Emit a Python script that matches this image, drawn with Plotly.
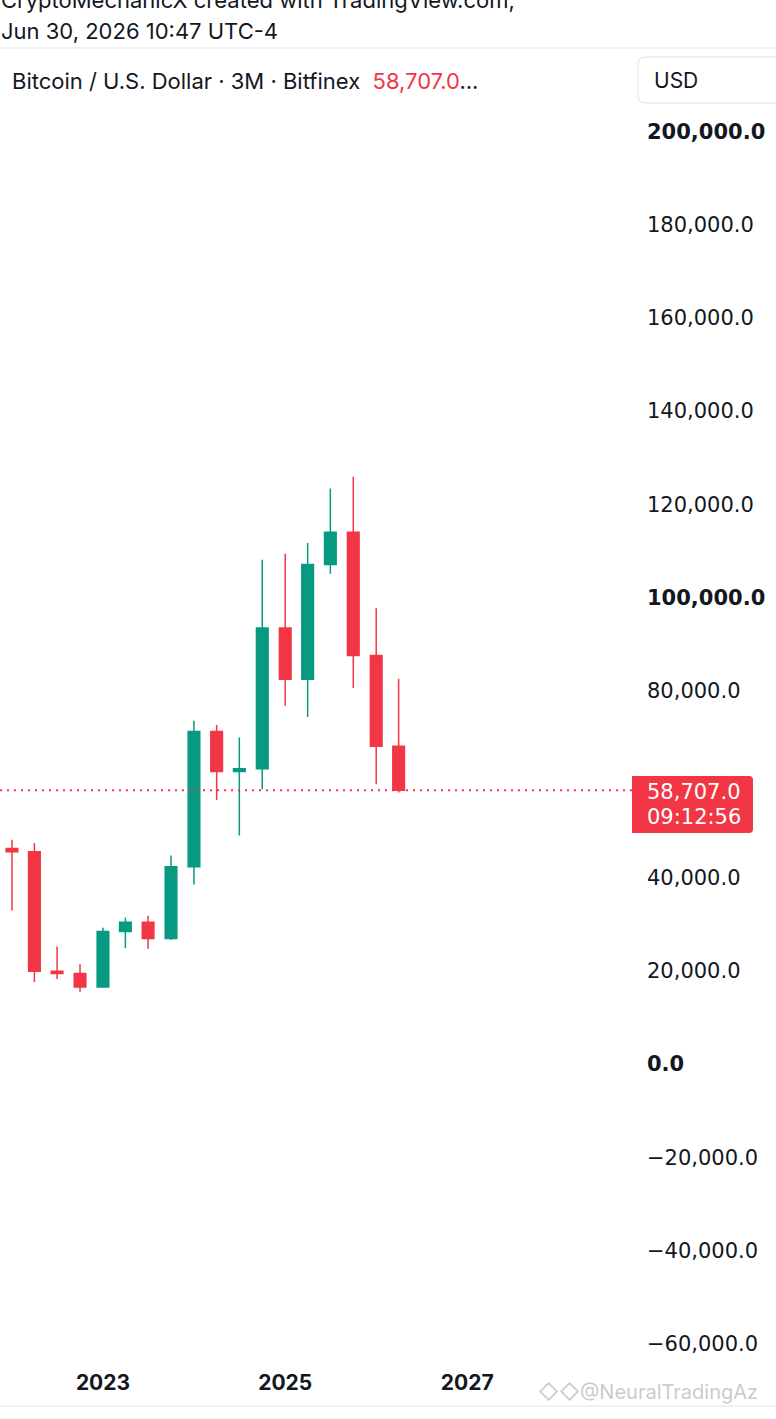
import plotly.graph_objects as go

# Quarterly (3M) BTC/USD candles, Bitfinex
quarters = [
    "2022-01-01", "2022-04-01", "2022-07-01", "2022-10-01",
    "2023-01-01", "2023-04-01", "2023-07-01", "2023-10-01",
    "2024-01-01", "2024-04-01", "2024-07-01", "2024-10-01",
    "2025-01-01", "2025-04-01", "2025-07-01", "2025-10-01",
    "2026-01-01", "2026-04-01",
]
opens = [46200, 45500, 19900, 19400, 16500, 28400, 30400, 26900, 42300,
         71300, 62700, 63300, 93500, 82500, 107100, 114000, 87600, 68100]
highs = [48100, 47400, 25200, 21400, 29200, 31400, 31800, 44700, 73600,
         72700, 70000, 108100, 109400, 111700, 123400, 125900, 97700, 82600]
lows = [32900, 17600, 18200, 15500, 16500, 24800, 24700, 26600, 38500,
        56600, 49000, 58900, 76800, 74400, 105100, 80600, 60000, 58200]
closes = [45500, 19900, 19400, 16500, 28400, 30400, 26900, 42300, 71300,
          62700, 63300, 93500, 82500, 107100, 114000, 87600, 68100, 58707]

price_ticks = [200000, 180000, 160000, 140000, 120000, 100000, 80000,
               60000, 40000, 20000, 0, -20000, -40000, -60000]
bold_ticks = [200000, 100000, 0]
year_ticks = ["2023-01-01", "2025-01-01", "2027-01-01"]
year_labels = ["2023", "2025", "2027"]

GREEN = "#089981"
RED = "#F23645"
TEXT = "#131722"
BORDER = "#e0e3eb"
FONT = "Inter, Roboto, sans-serif"
SCALE_FONT = "DejaVu Sans, sans-serif"

W, H = 776, 1419
PL, PR, PT, PB = 0, 632, 48, 1362  # plot area in pixels


def px(x):
    return (x - PL) / (PR - PL)


def py(y):
    return (PB - y) / (PB - PT)


def fmt(v):
    s = f"{abs(v):,.1f}"
    s = "\u2212" + s if v < 0 else s
    return f"<b>{s}</b>" if v in bold_ticks else s


def rounded_box(x0, y0, x1, y1, r, left_round=True):
    # path in paper coords, built from pixel corners
    def p(x, y):
        return f"{px(x):.5f},{py(y):.5f}"
    rl = r if left_round else 0
    parts = [
        f"M {p(x0 + rl, y0)}",
        f"L {p(x1 - r, y0)}",
        f"Q {p(x1, y0)} {p(x1, y0 + r)}",
        f"L {p(x1, y1 - r)}",
        f"Q {p(x1, y1)} {p(x1 - r, y1)}",
        f"L {p(x0 + rl, y1)}",
    ]
    if rl:
        parts += [f"Q {p(x0, y1)} {p(x0, y1 - rl)}",
                  f"L {p(x0, y0 + rl)}",
                  f"Q {p(x0, y0)} {p(x0 + rl, y0)}"]
    else:
        parts += [f"L {p(x0, y0)}"]
    return " ".join(parts) + " Z"


fig = go.Figure()
fig.add_trace(
    go.Candlestick(
        x=quarters,
        open=opens,
        high=highs,
        low=lows,
        close=closes,
        increasing=dict(line=dict(color=GREEN, width=1.5), fillcolor=GREEN),
        decreasing=dict(line=dict(color=RED, width=1.5), fillcolor=RED),
        whiskerwidth=0,
        hoverinfo="skip",
    )
)

shapes = [
    # header separator
    dict(type="line", xref="paper", yref="paper", x0=0, x1=px(W), y0=py(48), y1=py(48),
         line=dict(color=BORDER, width=1)),
    # bottom border
    dict(type="line", xref="paper", yref="paper", x0=0, x1=px(W), y0=py(1406), y1=py(1406),
         line=dict(color=BORDER, width=1)),
    # USD box
    dict(type="path", xref="paper", yref="paper", path=rounded_box(638, 57, 800, 103, 7),
         line=dict(color=BORDER, width=1), fillcolor="white"),
    # last price line
    dict(type="line", xref="paper", yref="y", x0=0, x1=1, y0=closes[-1], y1=closes[-1],
         line=dict(color=RED, width=2, dash="2px,5px")),
    # last price label
    dict(type="path", xref="paper", yref="paper", path=rounded_box(632, 776, 753, 833, 4, left_round=False),
         line=dict(color=RED, width=0), fillcolor=RED, layer="above"),
]

annotations = [
    dict(text="CryptoMechanicX created with TradingView.com,", x=px(-1), y=py(0),
         font=dict(size=22, color=TEXT)),
    dict(text="Jun 30, 2026 10:47 UTC-4", x=px(-1), y=py(31),
         font=dict(size=22, color=TEXT)),
    dict(text=f"Bitcoin / U.S. Dollar · 3M · Bitfinex  <span style='color:{RED}'>{closes[-1]:,.1f}</span>...",
         x=px(10), y=py(81), font=dict(size=22, color=TEXT)),
    dict(text="USD", x=px(652), y=py(80), font=dict(size=21, color=TEXT)),
    dict(text=f"{closes[-1]:,.1f}", x=px(645), y=py(792),
         font=dict(size=21, color="white", family=SCALE_FONT)),
    dict(text="09:12:56", x=px(645), y=py(817),
         font=dict(size=21, color="white", family=SCALE_FONT)),
    dict(text="◇◇@NeuralTradingAz", x=px(536), y=py(1392),
         font=dict(size=20, color="rgba(150,150,150,0.5)")),
]
for a in annotations:
    a.update(xref="paper", yref="paper", xanchor="left", yanchor="middle",
             showarrow=False)

fig.update_layout(
    width=W,
    height=H,
    margin=dict(l=PL, r=W - PR, t=PT, b=H - PB, pad=0),
    paper_bgcolor="white",
    plot_bgcolor="white",
    showlegend=False,
    font=dict(family=FONT, color=TEXT),
    shapes=shapes,
    annotations=annotations,
    boxgap=0.26,
    xaxis=dict(
        type="date",
        range=["2021-11-14", "2028-10-23"],
        tickvals=year_ticks,
        ticktext=year_labels,
        tickfont=dict(size=21, color=TEXT, weight="bold"),
        ticks="",
        ticklabelstandoff=6,
        showgrid=False,
        zeroline=False,
        showline=False,
        rangeslider=dict(visible=False),
        fixedrange=True,
    ),
    yaxis=dict(
        side="right",
        range=[-63900, 217840],
        tickvals=price_ticks,
        ticktext=[fmt(v) for v in price_ticks],
        tickfont=dict(size=21, color=TEXT, family=SCALE_FONT),
        ticks="",
        ticklabelstandoff=14,
        showgrid=False,
        zeroline=False,
        showline=False,
        fixedrange=True,
    ),
)

# page body has an 8px default margin; drop it so the chart fills the window
fig.write_html(
    "out.html",
    config={"displayModeBar": False},
    post_script="document.body.style.margin = '0';",
)
